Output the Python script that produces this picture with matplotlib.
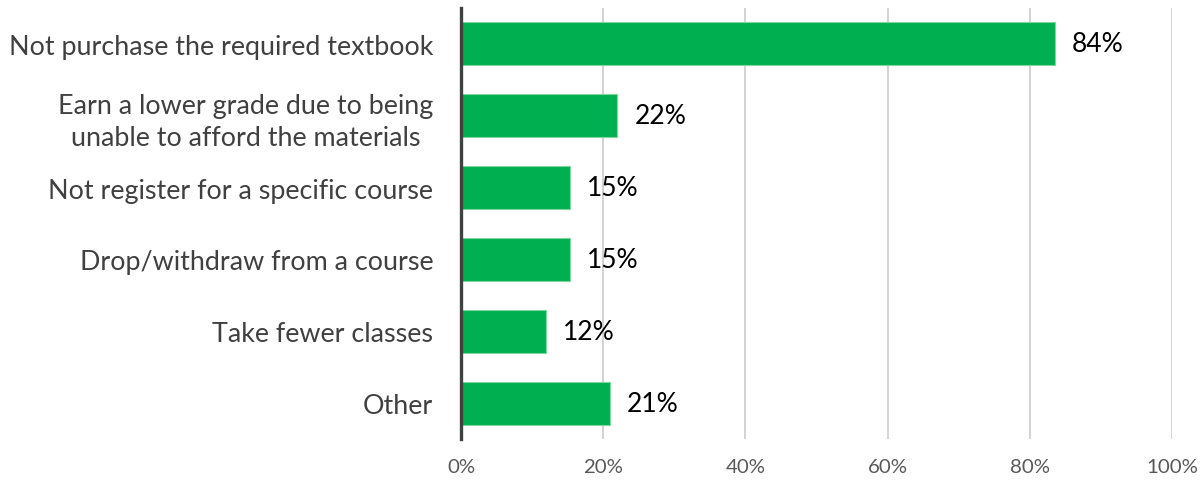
import matplotlib
matplotlib.use("Agg")
import matplotlib.pyplot as plt
from matplotlib.ticker import FuncFormatter

categories = [
    "Not purchase the required textbook",
    "Earn a lower grade due to being\nunable to afford the materials",
    "Not register for a specific course",
    "Drop/withdraw from a course",
    "Take fewer classes",
    "Other",
]
values = [83.5, 22.0, 15.3, 15.3, 12.0, 20.9]
value_labels = ["84%", "22%", "15%", "15%", "12%", "21%"]
xticks = [0, 20, 40, 60, 80, 100]

plt.rcParams['font.family'] = ['Lato', 'DejaVu Sans']

fig = plt.figure(figsize=(12.04, 4.81), dpi=100)
ax = fig.add_axes([461/1204, 41/481, 711/1204, 431/481])

y = list(range(len(categories)))
ax.barh(y, values, height=0.6, color="#00B050", edgecolor="#7fd6a0", linewidth=0.8, zorder=3)
for yi, v, lab in zip(y, values, value_labels):
    ax.text(v + 2.4, yi, lab, va="center", ha="left", fontsize=19, color="black")

ax.set_xlim(0, 100)
ax.set_ylim(len(categories) - 0.5, -0.5)
ax.set_yticks(y)
ax.set_yticklabels(categories, fontsize=19.4, color="#404040", linespacing=1.35)
ax.set_xticks(xticks)
ax.xaxis.set_major_formatter(FuncFormatter(lambda v, p: f"{int(v)}%"))
ax.tick_params(axis="x", labelsize=14.7, colors="#595959", length=0, pad=14)
ax.tick_params(axis="y", length=0, pad=20)
for lab in ax.get_yticklabels():
    lab.set_multialignment("center")

ax.grid(axis="x", color="#D0D0D0", linewidth=1.3, zorder=0)
for s in ["top", "right", "bottom"]:
    ax.spines[s].set_visible(False)
ax.spines["left"].set_color("#404040")
ax.spines["left"].set_linewidth(2.4)
ax.spines["left"].set_zorder(4)

fig.savefig("out.png", dpi=100)
